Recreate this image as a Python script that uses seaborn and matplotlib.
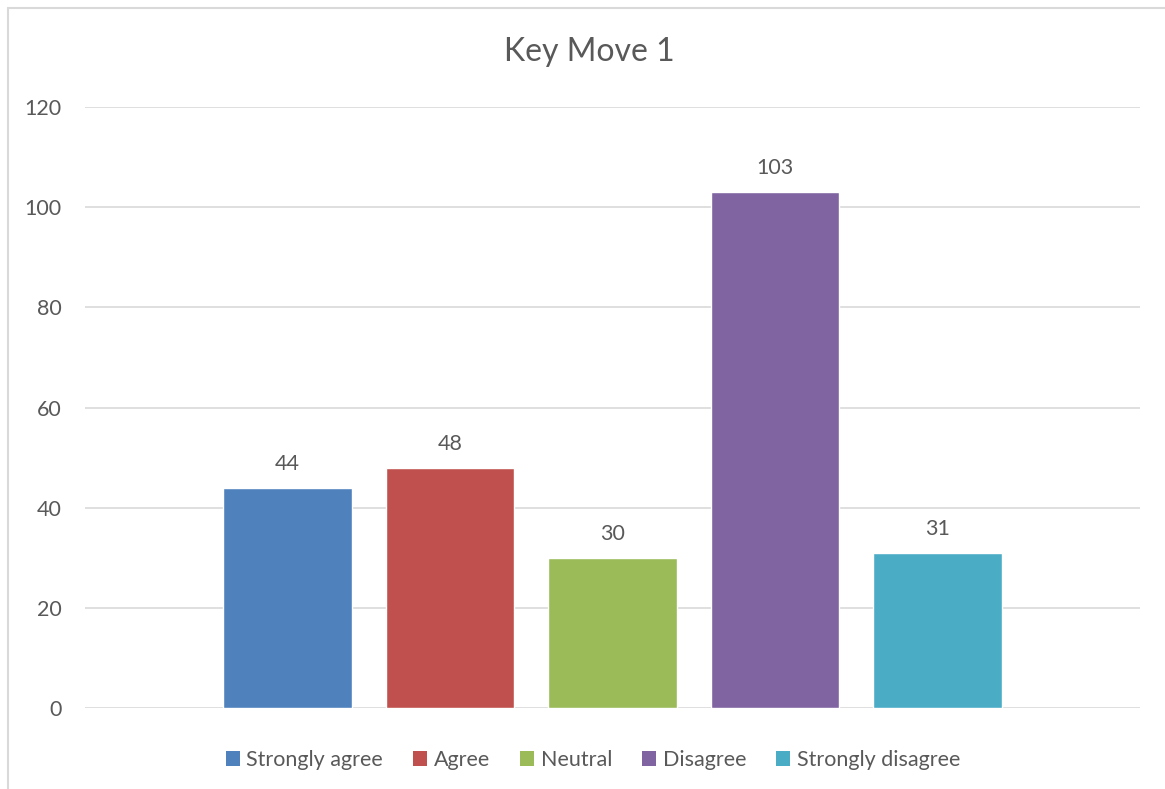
import matplotlib
matplotlib.use("Agg")
import matplotlib.pyplot as plt
import seaborn as sns
import pandas as pd
from matplotlib.lines import Line2D
from matplotlib.patches import Patch

title = "Key Move 1"
series = ["Strongly agree", "Agree", "Neutral", "Disagree", "Strongly disagree"]
values = [44, 48, 30, 103, 31]
colors = ["#4F81BD", "#C0504D", "#9BBB59", "#8064A2", "#4BACC6"]
yticks = [0, 20, 40, 60, 80, 100, 120]

df = pd.DataFrame({"cat": [""] * len(series), "series": series, "value": values})

sns.set_theme(style="white")
plt.rcParams["font.family"] = ["Lato", "DejaVu Sans"]
text_color = "#595959"

fig = plt.figure(figsize=(11.65, 7.89), dpi=100)
ax = fig.add_axes([85 / 1165, 1 - 708 / 789, (1140 - 85) / 1165, (708 - 107) / 789])

sns.barplot(data=df, x="cat", y="value", hue="series", hue_order=series,
            palette=colors, width=0.77, gap=0.21, saturation=1, ax=ax,
            legend=False, errorbar=None)

ax.set_xlim(-0.5, 0.5)
ax.set_ylim(0, 120)
ax.set_yticks(yticks)
ax.set_yticklabels([str(t) for t in yticks], fontsize=15.5, color=text_color)
ax.set_xticks([])
ax.set_xlabel("")
ax.set_ylabel("")
ax.tick_params(axis="y", length=0, pad=17)
ax.yaxis.grid(True, color="#D9D9D9", linewidth=1.2)
ax.set_axisbelow(True)
for s in ax.spines.values():
    s.set_visible(False)

for cont in ax.containers:
    ax.bar_label(cont, fmt="%g", padding=10, fontsize=15.5, color=text_color)

fig.text(589 / 1165, 1 - 52 / 789, title, ha="center", va="center",
         fontsize=23, color=text_color)

handles = [Patch(facecolor=c, edgecolor="none") for c in colors]
leg = fig.legend(handles, series, loc="center", bbox_to_anchor=(593 / 1165, 1 - 760 / 789),
                 ncol=5, frameon=False, fontsize=15.5, handlelength=0.65, handleheight=0.65,
                 handletextpad=0.3, columnspacing=1.4)
for t in leg.get_texts():
    t.set_color(text_color)

# outer chart border
fig.add_artist(Line2D([8 / 1165, 8 / 1165], [0, 1 - 8 / 789], color="#D9D9D9", linewidth=1.5,
                      transform=fig.transFigure))
fig.add_artist(Line2D([8 / 1165, 1], [1 - 8 / 789, 1 - 8 / 789], color="#D9D9D9", linewidth=1.5,
                      transform=fig.transFigure))

fig.savefig("out.png", dpi=100)
